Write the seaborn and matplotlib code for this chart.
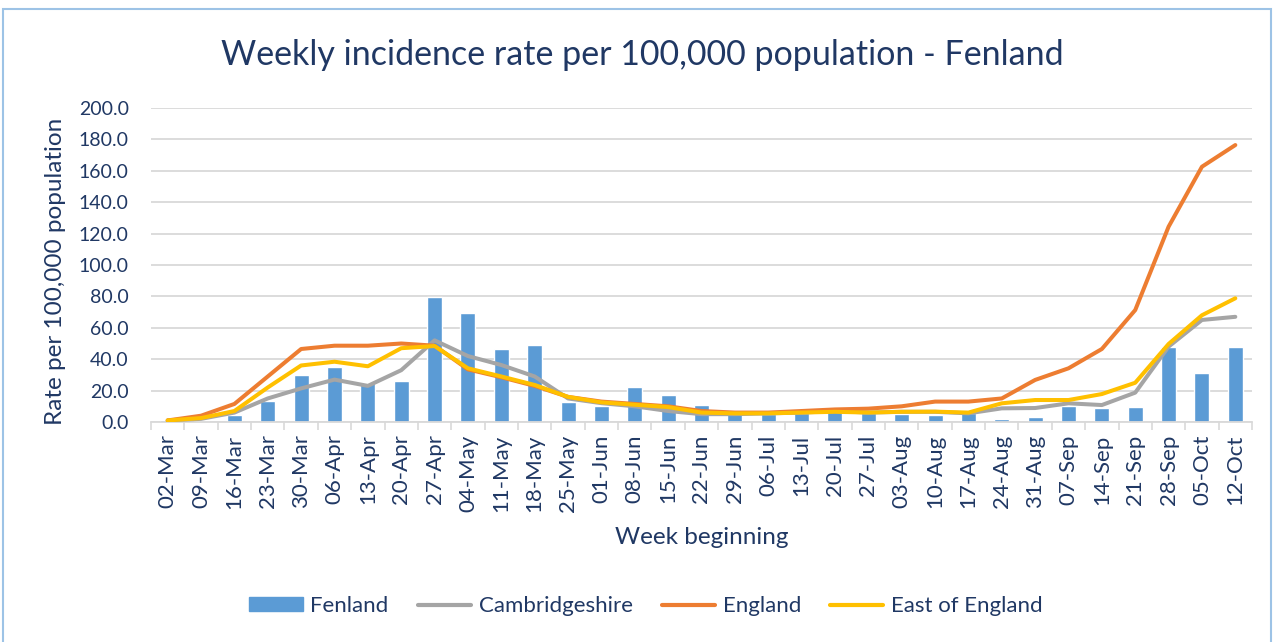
import numpy as np
import pandas as pd
import matplotlib
matplotlib.use("Agg")
import matplotlib.pyplot as plt
from matplotlib.patches import Patch, Rectangle
from matplotlib.lines import Line2D
from matplotlib.ticker import FixedLocator
import seaborn as sns

# Week beginning labels
weeks = ["02-Mar", "09-Mar", "16-Mar", "23-Mar", "30-Mar", "06-Apr", "13-Apr", "20-Apr",
         "27-Apr", "04-May", "11-May", "18-May", "25-May", "01-Jun", "08-Jun", "15-Jun",
         "22-Jun", "29-Jun", "06-Jul", "13-Jul", "20-Jul", "27-Jul", "03-Aug", "10-Aug",
         "17-Aug", "24-Aug", "31-Aug", "07-Sep", "14-Sep", "21-Sep", "28-Sep", "05-Oct",
         "12-Oct"]

# Weekly rates per 100,000
fenland = [1.5, 0.5, 4.5, 13.6, 29.7, 34.8, 25.0, 26.0, 79.4, 69.2, 46.3, 48.8,
           12.9, 10.2, 22.0, 17.2, 10.6, 6.0, 5.0, 6.0, 7.0, 6.0, 5.0, 4.5,
           5.7, 1.9, 3.4, 10.2, 8.7, 9.8, 47.6, 31.0, 47.6]
cambs = [1.0, 2.0, 6.0, 15.0, 21.4, 27.0, 23.0, 33.0, 52.0, 42.0, 36.3, 29.0,
         15.0, 12.0, 10.0, 7.0, 5.0, 5.0, 5.5, 6.0, 7.0, 6.0, 6.5, 6.5,
         5.5, 8.7, 8.9, 11.9, 10.8, 18.7, 48.0, 65.0, 67.0]
england = [1.0, 4.0, 11.5, 29.0, 46.5, 48.6, 48.6, 50.0, 48.6, 33.5, 28.5, 23.0,
           16.0, 13.0, 11.5, 10.0, 7.0, 6.0, 6.0, 7.0, 8.0, 8.5, 10.0, 13.0,
           13.0, 15.0, 26.8, 34.2, 46.5, 71.3, 124.4, 162.6, 176.4]
east = [1.0, 2.5, 7.0, 22.0, 36.0, 38.4, 35.5, 47.0, 48.4, 34.2, 29.0, 23.6,
        16.0, 12.5, 11.0, 9.5, 6.0, 5.5, 5.5, 6.0, 6.5, 6.0, 6.5, 6.6,
        6.0, 11.9, 14.0, 14.0, 17.8, 25.0, 49.7, 68.0, 78.8]

BLUE, GREY, ORANGE, GOLD = "#5B9BD5", "#A5A5A5", "#ED7D31", "#FFC000"
TXT = "#203864"
GRID = "#D9D9D9"

df = pd.DataFrame({"week": weeks, "pos": np.arange(len(weeks)),
                   "Fenland": fenland, "Cambridgeshire": cambs,
                   "England": england, "East of England": east})

sns.set_theme(style="white")
plt.rcParams["font.family"] = ["Lato", "DejaVu Sans"]

W, H = 1280, 642
fig = plt.figure(figsize=(W / 100, H / 100), dpi=100)
x0, x1, ytop, ybot = 151, 1252, 108, 422
ax = fig.add_axes([x0 / W, 1 - ybot / H, (x1 - x0) / W, (ybot - ytop) / H])

sns.barplot(data=df, x="week", y="Fenland", color=BLUE, width=0.45,
            saturation=1, ax=ax, zorder=2)
for col, c in [("Cambridgeshire", GREY), ("England", ORANGE), ("East of England", GOLD)]:
    sns.lineplot(data=df, x="pos", y=col, color=c, lw=2.9, ax=ax, zorder=3,
                 solid_capstyle="round", solid_joinstyle="round")

n = len(weeks)
ax.set_xlim(-0.5, n - 0.5)
ax.set_ylim(0, 200)
yt = np.arange(0, 201, 20)
ax.set_yticks(yt)
ax.set_yticklabels([f"{v:.1f}" for v in yt], fontsize=14, color=TXT)
ax.set_xticks(np.arange(n))
ax.set_xticklabels(weeks, rotation=90, fontsize=16, color=TXT)
ax.xaxis.set_minor_locator(FixedLocator(np.arange(-0.5, n, 1)))
ax.tick_params(axis="x", which="major", length=0, pad=9)
ax.tick_params(axis="x", which="minor", length=6, width=1.2, color=GRID, bottom=True)
ax.tick_params(axis="y", length=0, pad=16)
ax.grid(axis="y", color=GRID, lw=1.3, zorder=0)
ax.set_axisbelow(True)
for s in ["top", "right", "left"]:
    ax.spines[s].set_visible(False)
ax.spines["bottom"].set_color(GRID)
ax.spines["bottom"].set_linewidth(1.3)

ax.set_xlabel("Week beginning", fontsize=17.5, color=TXT, va="center")
ax.xaxis.set_label_coords(0.5, (ybot - 537) / (ybot - ytop))
ax.set_ylabel("Rate per 100,000 population", fontsize=17.5, color=TXT, va="center")
ax.yaxis.set_label_coords((55 - x0) / (x1 - x0), (ybot - 271) / (ybot - ytop))

fig.text(642 / W, 1 - 55 / H, "Weekly incidence rate per 100,000 population - Fenland",
         ha="center", va="center", fontsize=24.5, color=TXT)

handles = [Patch(color=BLUE, label="Fenland"),
           Line2D([], [], color=GREY, lw=3, label="Cambridgeshire"),
           Line2D([], [], color=ORANGE, lw=3, label="England"),
           Line2D([], [], color=GOLD, lw=3, label="East of England")]
fig.legend(handles=handles, loc="center", bbox_to_anchor=(646 / W, 1 - 606 / H), ncol=4,
           frameon=False, fontsize=16, labelcolor=TXT, handlelength=2.4,
           handleheight=0.6, columnspacing=1.3, handletextpad=0.35)

fig.patches.append(Rectangle((3 / W, -0.01), 1268 / W, 1 - 9 / H + 0.01,
                             transform=fig.transFigure, fill=False,
                             edgecolor="#9DC3E6", lw=1.5))

fig.savefig("out.png", dpi=100)
